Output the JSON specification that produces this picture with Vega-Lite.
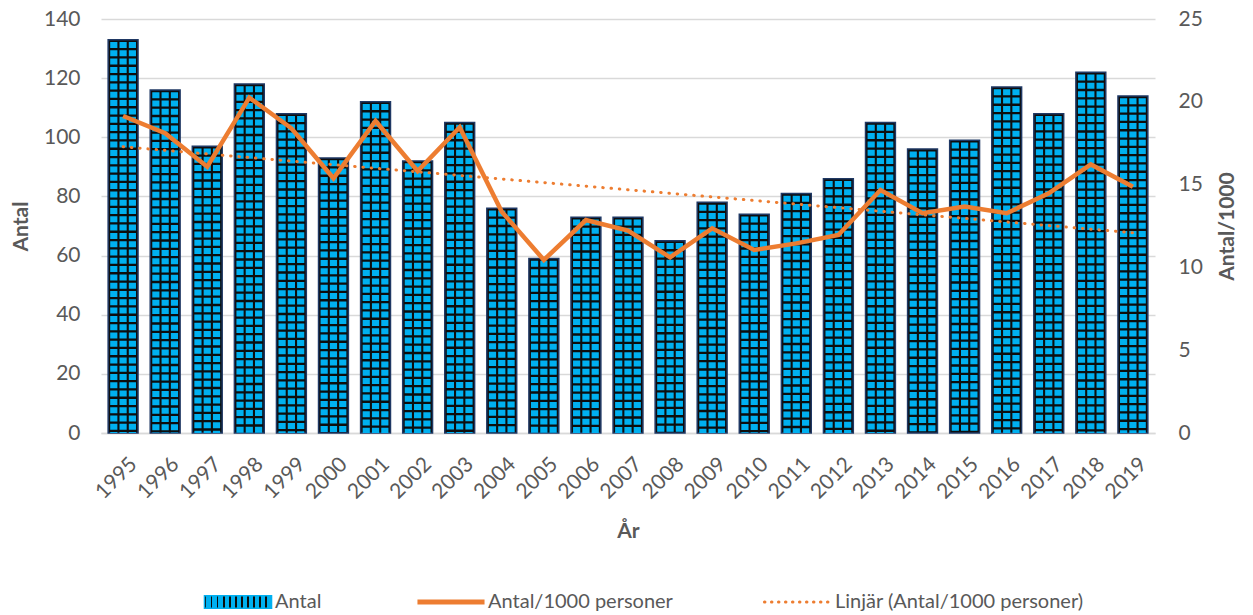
{
  "$schema": "https://vega.github.io/schema/vega-lite/v6.json",
  "width": 1054,
  "height": 414,
  "autosize": {"type": "none"},
  "padding": {"left": 101, "top": 19, "right": 98, "bottom": 182},
  "background": "white",
  "config": {"font": "Lato", "view": {"stroke": null}},
  "data": {"values": [
    {"year": 1995, "antal": 133, "rate": 19.14},
    {"year": 1996, "antal": 116, "rate": 18.1},
    {"year": 1997, "antal": 97, "rate": 16.08},
    {"year": 1998, "antal": 118, "rate": 20.25},
    {"year": 1999, "antal": 108, "rate": 18.4},
    {"year": 2000, "antal": 93, "rate": 15.38},
    {"year": 2001, "antal": 112, "rate": 18.84},
    {"year": 2002, "antal": 92, "rate": 15.82},
    {"year": 2003, "antal": 105, "rate": 18.46},
    {"year": 2004, "antal": 76, "rate": 13.36},
    {"year": 2005, "antal": 59, "rate": 10.45},
    {"year": 2006, "antal": 73, "rate": 12.86},
    {"year": 2007, "antal": 73, "rate": 12.22},
    {"year": 2008, "antal": 65, "rate": 10.61},
    {"year": 2009, "antal": 78, "rate": 12.36},
    {"year": 2010, "antal": 74, "rate": 11.05},
    {"year": 2011, "antal": 81, "rate": 11.45},
    {"year": 2012, "antal": 86, "rate": 11.96},
    {"year": 2013, "antal": 105, "rate": 14.67},
    {"year": 2014, "antal": 96, "rate": 13.27},
    {"year": 2015, "antal": 99, "rate": 13.67},
    {"year": 2016, "antal": 117, "rate": 13.27},
    {"year": 2017, "antal": 108, "rate": 14.47},
    {"year": 2018, "antal": 122, "rate": 16.22},
    {"year": 2019, "antal": 114, "rate": 14.87}
  ]},
  "layer": [
    {
      "layer": [
        {
          "mark": {"type": "bar", "fill": "#0D0D0D", "stroke": "#1F3864", "strokeWidth": 1.5},
          "encoding": {
            "x": {
              "field": "year", "type": "ordinal",
              "scale": {"paddingInner": 0.29, "paddingOuter": 0.17},
              "axis": {
                "title": "År", "labelAngle": -45, "labelAlign": "right", "labelBaseline": "top",
                "labelPadding": 20, "labelOffset": 3, "labelFontSize": 21, "labelColor": "#595959",
                "ticks": false, "domain": true, "domainColor": "#D9D9D9", "domainWidth": 1.5,
                "titleFontSize": 21, "titleFontWeight": "bold", "titleColor": "#595959", "titlePadding": 18
              }
            },
            "y": {
              "field": "antal", "type": "quantitative",
              "scale": {"domain": [0, 140], "nice": false},
              "axis": {
                "title": "Antal", "values": [0, 20, 40, 60, 80, 100, 120, 140],
                "grid": true, "gridColor": "#D9D9D9", "gridWidth": 1.3,
                "domain": false, "ticks": false, "labelPadding": 21, "labelFontSize": 21,
                "labelColor": "#595959", "titleFontSize": 21, "titleFontWeight": "bold",
                "titleColor": "#595959", "titlePadding": 12
              }
            }
          }
        },
        {
          "mark": {"type": "rule", "color": "#00B0F0", "strokeWidth": 7.2, "strokeDash": [6, 2.3], "strokeDashOffset": 6, "strokeCap": "butt", "xOffset": -9.3},
          "encoding": {
            "x": {"field": "year", "type": "ordinal"},
            "y": {"field": "antal", "type": "quantitative"},
            "y2": {"datum": 0}
          }
        },
        {
          "mark": {"type": "rule", "color": "#00B0F0", "strokeWidth": 7.2, "strokeDash": [6, 2.3], "strokeDashOffset": 6, "strokeCap": "butt", "xOffset": 0},
          "encoding": {
            "x": {"field": "year", "type": "ordinal"},
            "y": {"field": "antal", "type": "quantitative"},
            "y2": {"datum": 0}
          }
        },
        {
          "mark": {"type": "rule", "color": "#00B0F0", "strokeWidth": 7.2, "strokeDash": [6, 2.3], "strokeDashOffset": 6, "strokeCap": "butt", "xOffset": 9.3},
          "encoding": {
            "x": {"field": "year", "type": "ordinal"},
            "y": {"field": "antal", "type": "quantitative"},
            "y2": {"datum": 0}
          }
        }
      ]
    },
    {
      "layer": [
        {
          "mark": {"type": "line", "strokeWidth": 4.5},
          "encoding": {
            "x": {"field": "year", "type": "ordinal"},
            "y": {
              "field": "rate", "type": "quantitative",
              "scale": {"domain": [0, 25], "nice": false},
              "axis": {
                "orient": "right", "title": "Antal/1000", "values": [0, 5, 10, 15, 20, 25],
                "grid": false, "domain": false, "ticks": false, "labelPadding": 23,
                "labelFontSize": 21, "labelColor": "#595959", "titleFontSize": 21,
                "titleFontWeight": "bold", "titleColor": "#595959", "titleAngle": 270,
                "titleBaseline": "top", "titlePadding": 14
              }
            },
            "color": {
              "datum": "Antal/1000 personer",
              "scale": {
                "domain": ["Antal", "Antal/1000 personer", "Linjär (Antal/1000 personer)"],
                "range": ["#00B0F0", "#ED7D31", "#ED7D31"]
              },
              "legend": {
                "orient": "none", "legendX": 127, "legendY": 573, "direction": "horizontal",
                "columns": 3, "title": null, "symbolSize": 4500, "labelFontSize": 20,
                "labelColor": "#595959", "labelOffset": 27, "columnPadding": 85, "labelLimit": 0,
                "encode": {
                  "symbols": {
                    "update": {
                      "shape": {"signal": "datum.value === 'Antal' ? 'M-1,-0.19H1V0.19H-1Z' : 'stroke'"},
                      "fill": [
                        {"test": "datum.value === 'Antal'", "value": {
                          "gradient": "linear", "x1": 0, "y1": 0, "x2": 1, "y2": 0,
                          "stops": [
                            {"offset": 0, "color": "#0D0D0D"}, {"offset": 0.027, "color": "#0D0D0D"}, {"offset": 0.027, "color": "#00B0F0"}, {"offset": 0.0909, "color": "#00B0F0"},
                            {"offset": 0.0909, "color": "#0D0D0D"}, {"offset": 0.118, "color": "#0D0D0D"}, {"offset": 0.118, "color": "#00B0F0"}, {"offset": 0.1818, "color": "#00B0F0"},
                            {"offset": 0.1818, "color": "#0D0D0D"}, {"offset": 0.209, "color": "#0D0D0D"}, {"offset": 0.209, "color": "#00B0F0"}, {"offset": 0.2727, "color": "#00B0F0"},
                            {"offset": 0.2727, "color": "#0D0D0D"}, {"offset": 0.3, "color": "#0D0D0D"}, {"offset": 0.3, "color": "#00B0F0"}, {"offset": 0.3636, "color": "#00B0F0"},
                            {"offset": 0.3636, "color": "#0D0D0D"}, {"offset": 0.391, "color": "#0D0D0D"}, {"offset": 0.391, "color": "#00B0F0"}, {"offset": 0.4545, "color": "#00B0F0"},
                            {"offset": 0.4545, "color": "#0D0D0D"}, {"offset": 0.482, "color": "#0D0D0D"}, {"offset": 0.482, "color": "#00B0F0"}, {"offset": 0.5455, "color": "#00B0F0"},
                            {"offset": 0.5455, "color": "#0D0D0D"}, {"offset": 0.573, "color": "#0D0D0D"}, {"offset": 0.573, "color": "#00B0F0"}, {"offset": 0.6364, "color": "#00B0F0"},
                            {"offset": 0.6364, "color": "#0D0D0D"}, {"offset": 0.664, "color": "#0D0D0D"}, {"offset": 0.664, "color": "#00B0F0"}, {"offset": 0.7273, "color": "#00B0F0"},
                            {"offset": 0.7273, "color": "#0D0D0D"}, {"offset": 0.755, "color": "#0D0D0D"}, {"offset": 0.755, "color": "#00B0F0"}, {"offset": 0.8182, "color": "#00B0F0"},
                            {"offset": 0.8182, "color": "#0D0D0D"}, {"offset": 0.845, "color": "#0D0D0D"}, {"offset": 0.845, "color": "#00B0F0"}, {"offset": 0.9091, "color": "#00B0F0"},
                            {"offset": 0.9091, "color": "#0D0D0D"}, {"offset": 0.936, "color": "#0D0D0D"}, {"offset": 0.936, "color": "#00B0F0"}, {"offset": 1, "color": "#00B0F0"}
                          ]
                        }},
                        {"value": "transparent"}
                      ],
                      "stroke": {"signal": "datum.value === 'Antal' ? '#1F3864' : '#ED7D31'"},
                      "strokeWidth": {"signal": "datum.value === 'Antal' ? 1.5 : (datum.value === 'Antal/1000 personer' ? 5 : 3)"},
                      "strokeDash": {"signal": "datum.value === 'Linjär (Antal/1000 personer)' ? [0.5, 6.5] : [1, 0]"},
                      "strokeCap": {"signal": "datum.value === 'Linjär (Antal/1000 personer)' ? 'round' : 'butt'"},
                      "opacity": {"value": 1}
                    }
                  }
                }
              }
            }
          }
        },
        {
          "transform": [{"regression": "rate", "on": "year"}],
          "mark": {"type": "line", "strokeWidth": 3, "strokeDash": [0.5, 7.8], "strokeCap": "round"},
          "encoding": {
            "x": {"field": "year", "type": "ordinal"},
            "y": {"field": "rate", "type": "quantitative"},
            "color": {"datum": "Linjär (Antal/1000 personer)"}
          }
        }
      ]
    }
  ],
  "resolve": {"scale": {"y": "independent"}}
}
